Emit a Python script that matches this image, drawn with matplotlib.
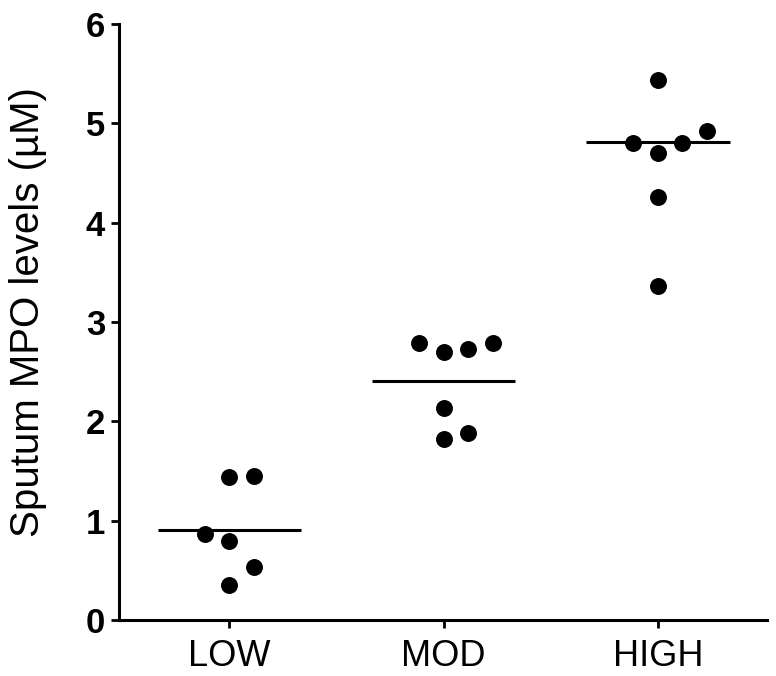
import matplotlib
matplotlib.use("Agg")
import matplotlib.pyplot as plt

# group names and measured sputum MPO values (uM)
groups = ["LOW", "MOD", "HIGH"]
low_vals = [1.44, 1.45, 0.87, 0.80, 0.53, 0.35]
mod_vals = [2.79, 2.70, 2.73, 2.79, 2.13, 1.82, 1.88]
high_vals = [5.44, 4.92, 4.80, 4.80, 4.70, 4.26, 3.36]
center_lines = [0.91, 2.41, 4.81]

# horizontal scatter slot of every dot (in dot widths)
low_slots = [0, 1, -1, 0, 1, 0]
mod_slots = [-1, 0, 1, 2, 0, 0, 1]
high_slots = [0, 2, -1, 1, 0, 0, 0]

plt.rcParams["font.family"] = ["Liberation Sans", "DejaVu Sans"]

fig = plt.figure(figsize=(7.76, 6.76), dpi=100)
ax = fig.add_axes([0.1534, 0.0828, 0.835, 0.8817])

slot_w = 0.1144
for i, (vals, slots) in enumerate([(low_vals, low_slots), (mod_vals, mod_slots),
                                   (high_vals, high_slots)]):
    xs = [i + s * slot_w for s in slots]
    ax.plot(xs, vals, "o", color="black", markersize=12.2, markeredgewidth=0)
    ax.hlines(center_lines[i], i - 0.335, i + 0.335, color="black", linewidth=2.2)

ax.set_xlim(-0.515, 2.51)
ax.set_ylim(0, 6)
ax.set_xticks(range(len(groups)))
ax.set_xticklabels(groups, fontsize=26)
ax.set_yticks(range(0, 7))
ax.set_yticklabels([str(v) for v in range(0, 7)], fontsize=25, fontweight="bold")
ax.set_ylabel("Sputum MPO levels (\u00b5M)", fontsize=29)
ax.yaxis.set_label_coords(-0.111, 0.517)

for side in ["top", "right"]:
    ax.spines[side].set_visible(False)
for side in ["left", "bottom"]:
    ax.spines[side].set_linewidth(2.2)
ax.tick_params(width=2.0, length=6, direction="out", pad=4)
ax.tick_params(axis="x", pad=8)

fig.savefig("out.png", dpi=100)
